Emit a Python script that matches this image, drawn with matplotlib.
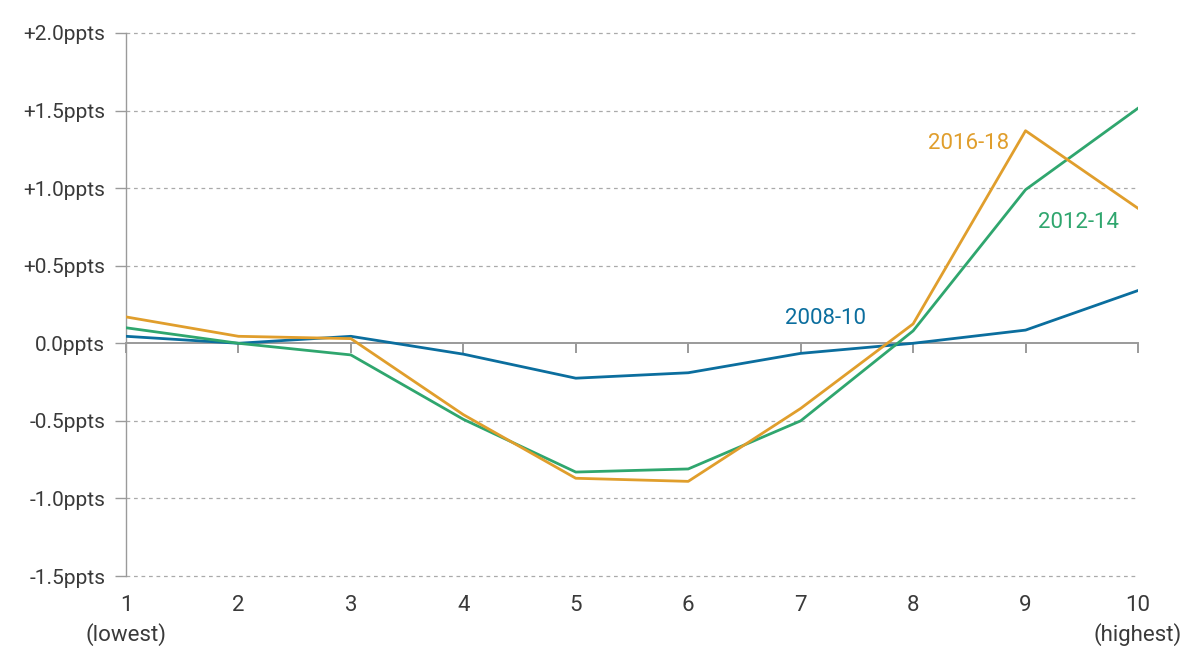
import matplotlib
matplotlib.use("Agg")
import matplotlib.pyplot as plt
import matplotlib.transforms as mtransforms

plt.rcParams['font.family'] = ['Roboto', 'DejaVu Sans']

deciles = [1, 2, 3, 4, 5, 6, 7, 8, 9, 10]
x_labels = ["1\n(lowest)", "2", "3", "4", "5", "6", "7", "8", "9", "10\n(highest)"]
s_2008_10 = [0.045, 0.0, 0.045, -0.07, -0.225, -0.19, -0.065, 0.0, 0.085, 0.34]
s_2012_14 = [0.10, 0.0, -0.075, -0.49, -0.83, -0.81, -0.50, 0.08, 0.99, 1.515]
s_2016_18 = [0.17, 0.045, 0.03, -0.46, -0.87, -0.89, -0.42, 0.125, 1.37, 0.87]
y_ticks = [-1.5, -1.0, -0.5, 0.0, 0.5, 1.0, 1.5, 2.0]
y_labels = ["-1.5ppts", "-1.0ppts", "-0.5ppts", "0.0ppts", "+0.5ppts", "+1.0ppts", "+1.5ppts", "+2.0ppts"]

c_blue = "#0b6e9e"
c_green = "#2fa66e"
c_orange = "#e09e2c"
grey = "#9a9a9a"
txt = "#3a3a3a"

fig = plt.figure(figsize=(11.87, 6.46), dpi=100)
ax = fig.add_axes([126/1187, 1-576/646, (1138-126)/1187, (576-33)/646])
ax.set_xlim(1, 10)
ax.set_ylim(-1.5, 2.0)

for yv in y_ticks:
    if yv != 0:
        ax.axhline(yv, color="#aaaaaa", lw=0.9, ls=(0, (3, 3)), zorder=1, clip_on=False)

ax.plot(deciles, s_2008_10, color=c_blue, lw=2.0, zorder=3)
ax.plot(deciles, s_2012_14, color=c_green, lw=2.0, zorder=3)
ax.plot(deciles, s_2016_18, color=c_orange, lw=2.0, zorder=4)

for sp in ['top', 'right']:
    ax.spines[sp].set_visible(False)
ax.spines['left'].set_color(grey)
ax.spines['left'].set_linewidth(1.0)
ax.spines['bottom'].set_position(('data', 0))
ax.spines['bottom'].set_color(grey)
ax.spines['bottom'].set_linewidth(1.4)

ax.set_yticks(y_ticks)
ax.set_yticklabels(y_labels, fontsize=15, color=txt)
ax.tick_params(axis='y', length=8, width=1.0, color=grey, pad=7)
ax.set_xticks(deciles)
ax.set_xticklabels([])
ax.tick_params(axis='x', length=7, width=1.4, color=grey, direction='out')

trans = mtransforms.blended_transform_factory(ax.transData, ax.transAxes)
for xv, lab in zip(deciles, x_labels):
    ax.text(xv, -0.035, lab, transform=trans, ha='center', va='top',
            fontsize=16, color=txt, linespacing=1.4)

ax.text(7.22, 0.16, "2008-10", color=c_blue, fontsize=16, ha='center', va='center')
ax.text(8.49, 1.29, "2016-18", color=c_orange, fontsize=16, ha='center', va='center')
ax.text(9.47, 0.78, "2012-14", color=c_green, fontsize=16, ha='center', va='center')

fig.savefig("out.png", dpi=100)
